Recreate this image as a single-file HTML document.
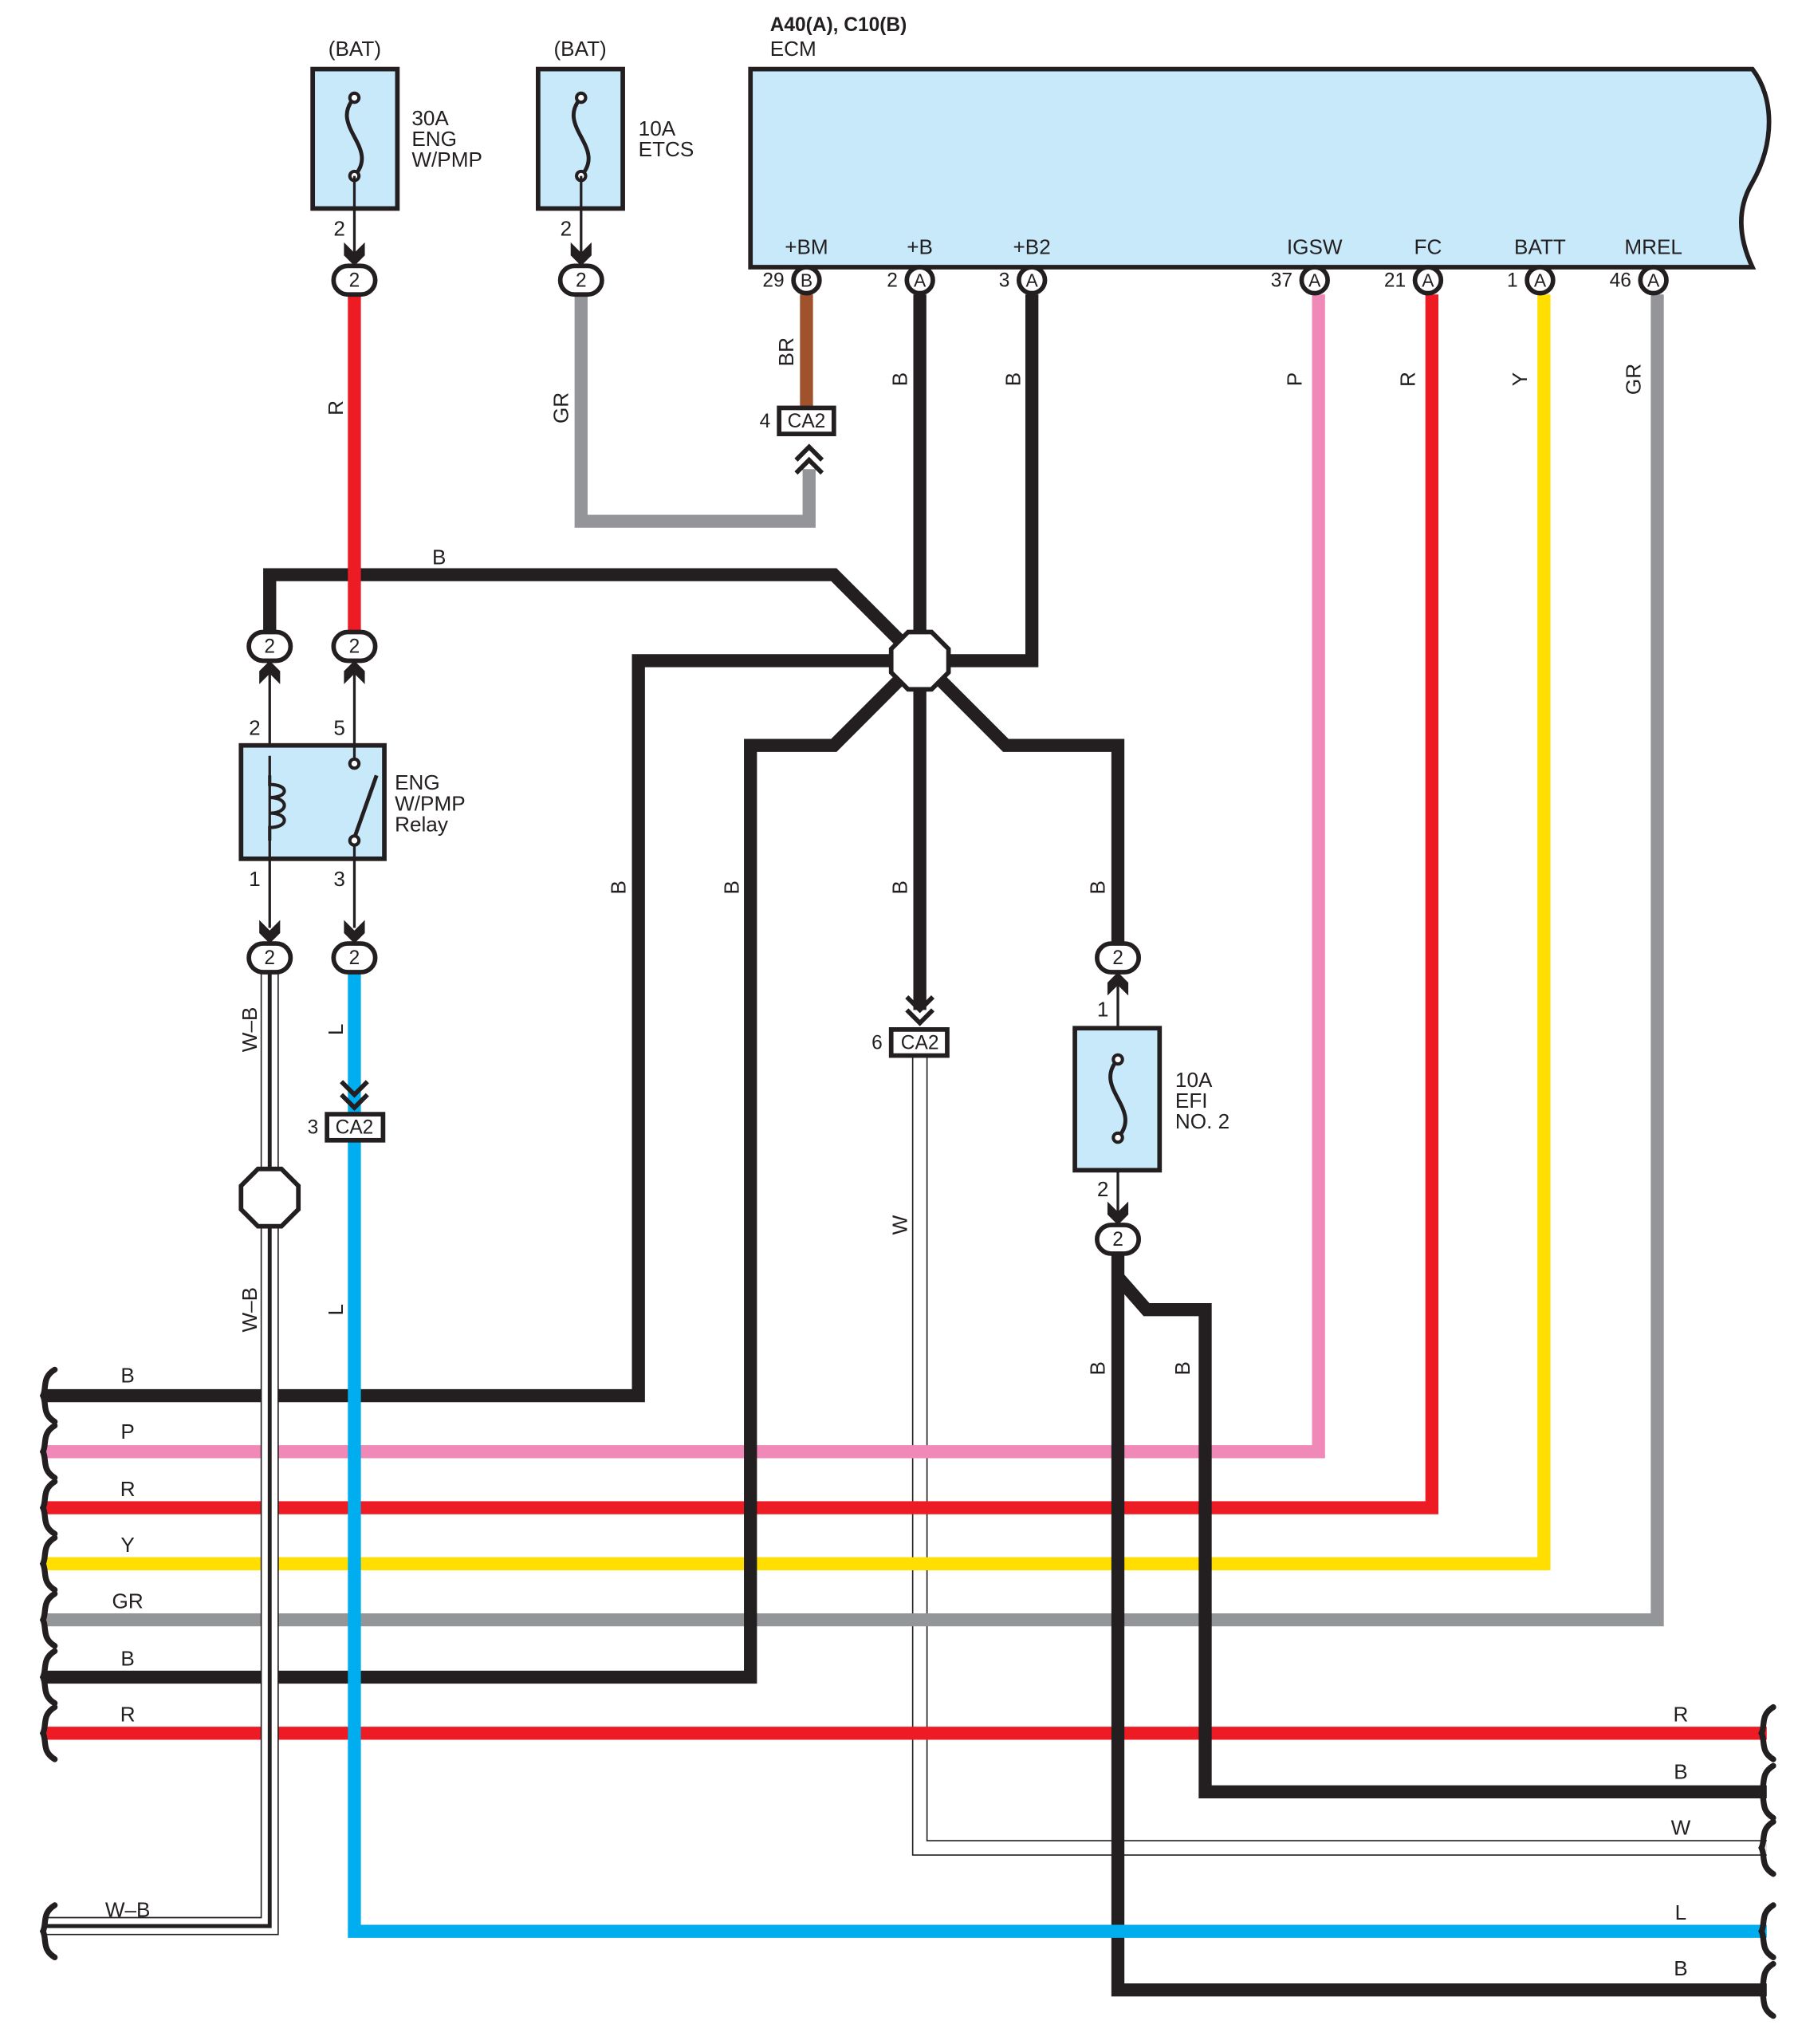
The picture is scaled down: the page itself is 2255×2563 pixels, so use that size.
<!DOCTYPE html>
<html><head><meta charset="utf-8"><style>
html,body{margin:0;padding:0;background:#fff}
svg{display:block}
text{font-family:"Liberation Sans",sans-serif;fill:#231f20}
</style></head><body>
<svg width="2255" height="2563" viewBox="0 0 1380 1568.5" preserveAspectRatio="none" xmlns="http://www.w3.org/2000/svg">
<defs>
<path id="brace" d="M6,-20 C-4,-14 0,-6 -3,0 C0,6 -4,14 6,20" fill="none" stroke="#231f20" stroke-width="4.5" stroke-linecap="round"/>
<g id="arrD"><path d="M-8,-16 L0,-8 L8,-16 L8,-6 L0,2 L-8,-6 Z" fill="#231f20"/></g>
<g id="arrU"><path d="M-8,16 L0,8 L8,16 L8,6 L0,-2 L-8,6 Z" fill="#231f20"/></g>
<g id="dchevU"><polyline points="-10,8 0,-2 10,8" fill="none" stroke="#231f20" stroke-width="3.5"/><polyline points="-10,18 0,8 10,18" fill="none" stroke="#231f20" stroke-width="3.5"/></g>
<g id="dchevD"><polyline points="-10,-8 0,2 10,-8" fill="none" stroke="#231f20" stroke-width="3.5"/><polyline points="-10,-18 0,-8 10,-18" fill="none" stroke="#231f20" stroke-width="3.5"/></g>
<g id="fuse"><path d="M0,-30 C-20,-8 20,8 0,30" fill="none" stroke="#231f20" stroke-width="3"/><circle cx="0" cy="-30" r="3.5" fill="#fff" stroke="#231f20" stroke-width="2.5"/><circle cx="0" cy="30" r="3.5" fill="#fff" stroke="#231f20" stroke-width="2.5"/></g>
</defs>

<path d="M576,53 H1345 C1362,75 1362,110 1345,140 C1330,165 1338,190 1345,205 H576 Z" fill="#c8e9fa" stroke="#231f20" stroke-width="3.5"/>
<text x="591" y="24" font-size="15" font-weight="bold">A40(A), C10(B)</text>
<text x="591" y="43" font-size="16">ECM</text>
<g font-size="16" text-anchor="middle">
<text x="619" y="195">+BM</text><text x="706" y="195">+B</text><text x="792" y="195">+B2</text>
<text x="1009" y="195">IGSW</text><text x="1096" y="195">FC</text><text x="1182" y="195">BATT</text><text x="1269" y="195">MREL</text>
</g>

<rect x="240" y="53" width="65" height="107" fill="#c8e9fa" stroke="#231f20" stroke-width="3.5"/>
<use href="#fuse" x="272" y="105"/>
<rect x="413" y="53" width="65" height="107" fill="#c8e9fa" stroke="#231f20" stroke-width="3.5"/>
<use href="#fuse" x="446" y="105"/>
<g font-size="16">
<text x="252" y="43">(BAT)</text><text x="425" y="43">(BAT)</text>
<text x="316" y="96">30A</text><text x="316" y="112">ENG</text><text x="316" y="128">W/PMP</text>
<text x="490" y="104">10A</text><text x="490" y="120">ETCS</text>
<text x="256" y="181">2</text><text x="430" y="181">2</text>
</g>
<line x1="272" y1="135" x2="272" y2="200" stroke="#231f20" stroke-width="2"/>
<line x1="446" y1="135" x2="446" y2="200" stroke="#231f20" stroke-width="2"/>
<use href="#arrD" x="272" y="202"/><use href="#arrD" x="446" y="202"/>

<path d="M706,811 V1418 H1356" fill="none" stroke="#231f20" stroke-width="12"/>
<path d="M706,811 V1418 H1356" fill="none" stroke="#fff" stroke-width="10"/>

<g fill="none" stroke-width="10" stroke-linejoin="miter">
<path d="M35,1114 H1012 V226" stroke="#f088b8"/>
<path d="M35,1157 H1099 V226" stroke="#ed1c24"/>
<path d="M35,1200 H1185 V226" stroke="#ffde00"/>
<path d="M35,1243 H1272 V226" stroke="#939598"/>
<path d="M35,1330 H1356" stroke="#ed1c24"/>
<path d="M35,1071 H490 V507 H700" stroke="#231f20"/>
<path d="M35,1287 H576 V572 H640 L700,512" stroke="#231f20"/>
<path d="M207,485 V441 H640 L706,507" stroke="#231f20"/>
<path d="M792,226 V507 H706" stroke="#231f20"/>
<path d="M706,226 V775" stroke="#231f20"/>
<path d="M712,512 L772,572 H858 V724" stroke="#231f20"/>
<path d="M858,962 V1527 H1356" stroke="#231f20"/>
<path d="M858,980 L880,1005 H925 V1375 H1356" stroke="#231f20"/>
<path d="M272,226 V485" stroke="#ed1c24"/>
<path d="M446,226 V400 H621 V360" stroke="#939598"/>
<path d="M619,226 V313" stroke="#a0522d"/>
<path d="M272,746 V1482 H1356" stroke="#00aeef"/>
</g>

<g fill="none">
<path d="M207,746 V1478 H35" stroke="#231f20" stroke-width="14"/>
<path d="M207,746 V1478 H35" stroke="#fff" stroke-width="12"/>
<path d="M207,746 V1478 H35" stroke="#231f20" stroke-width="3"/>
</g>
<polygon points="198,897 216,897 229,910 229,928 216,941 198,941 185,928 185,910" fill="#fff" stroke="#231f20" stroke-width="3.5"/>

<polygon points="697,485 715,485 728,498 728,516 715,529 697,529 684,516 684,498" fill="#fff" stroke="#231f20" stroke-width="3.5"/>

<g font-size="14" text-anchor="middle">
<g fill="#fff" stroke="#231f20" stroke-width="3.5">
<circle cx="619" cy="215" r="10"/><circle cx="706" cy="215" r="10"/><circle cx="792" cy="215" r="10"/>
<circle cx="1009" cy="215" r="10"/><circle cx="1096" cy="215" r="10"/><circle cx="1182" cy="215" r="10"/><circle cx="1269" cy="215" r="10"/>
</g>
<text x="619" y="220">B</text><text x="706" y="220">A</text><text x="792" y="220">A</text>
<text x="1009" y="220">A</text><text x="1096" y="220">A</text><text x="1182" y="220">A</text><text x="1269" y="220">A</text>
</g>
<g font-size="15" text-anchor="end">
<text x="602" y="220">29</text><text x="689" y="220">2</text><text x="775" y="220">3</text>
<text x="992" y="220">37</text><text x="1079" y="220">21</text><text x="1165" y="220">1</text><text x="1252" y="220">46</text>
</g>

<g fill="#fff" stroke="#231f20" stroke-width="3.5">
<rect x="256" y="204" width="32" height="22" rx="11"/>
<rect x="430" y="204" width="32" height="22" rx="11"/>
<rect x="191" y="485" width="32" height="22" rx="11"/>
<rect x="256" y="485" width="32" height="22" rx="11"/>
<rect x="191" y="724" width="32" height="22" rx="11"/>
<rect x="256" y="724" width="32" height="22" rx="11"/>
<rect x="842" y="724" width="32" height="22" rx="11"/>
<rect x="842" y="940" width="32" height="22" rx="11"/>
</g>
<g font-size="15" text-anchor="middle">
<text x="272" y="220">2</text><text x="446" y="220">2</text>
<text x="207" y="501">2</text><text x="272" y="501">2</text>
<text x="207" y="740">2</text><text x="272" y="740">2</text>
<text x="858" y="740">2</text><text x="858" y="956">2</text>
</g>

<line x1="207" y1="510" x2="207" y2="712" stroke="#231f20" stroke-width="2"/>
<line x1="272" y1="510" x2="272" y2="712" stroke="#231f20" stroke-width="2"/>
<rect x="185" y="572" width="110" height="87" fill="#c8e9fa" stroke="#231f20" stroke-width="3.5"/>
<path d="M207,595 V602 C222,602 222,612 207,612 C222,612 222,624 207,624 C222,624 222,635 207,635 V645" fill="none" stroke="#231f20" stroke-width="2.5"/>
<line x1="207" y1="580" x2="207" y2="659" stroke="#231f20" stroke-width="2"/>
<line x1="272" y1="572" x2="272" y2="586" stroke="#231f20" stroke-width="2"/>
<line x1="272" y1="659" x2="272" y2="645" stroke="#231f20" stroke-width="2"/>
<line x1="272" y1="643" x2="289" y2="595" stroke="#231f20" stroke-width="3"/>
<circle cx="272" cy="586" r="3.5" fill="#fff" stroke="#231f20" stroke-width="2.5"/>
<circle cx="272" cy="645" r="3.5" fill="#fff" stroke="#231f20" stroke-width="2.5"/>
<use href="#arrU" x="207" y="509"/><use href="#arrU" x="272" y="509"/>
<use href="#arrD" x="207" y="722"/><use href="#arrD" x="272" y="722"/>
<g font-size="16">
<text x="191" y="564">2</text><text x="256" y="564">5</text><text x="191" y="680">1</text><text x="256" y="680">3</text>
<text x="303" y="606">ENG</text><text x="303" y="622">W/PMP</text><text x="303" y="638">Relay</text>
</g>

<use href="#dchevU" x="621" y="345"/>
<use href="#dchevD" x="272" y="848"/>
<use href="#dchevD" x="706" y="783"/>
<g fill="#fff" stroke="#231f20" stroke-width="3.5">
<rect x="598" y="313" width="42" height="20"/>
<rect x="251" y="855" width="43" height="20"/>
<rect x="684" y="790" width="43" height="20"/>
</g>
<g font-size="15">
<text x="619" y="328" text-anchor="middle">CA2</text><text x="583" y="328">4</text>
<text x="272" y="870" text-anchor="middle">CA2</text><text x="236" y="870">3</text>
<text x="706" y="805" text-anchor="middle">CA2</text><text x="669" y="805">6</text>
</g>

<line x1="858" y1="750" x2="858" y2="938" stroke="#231f20" stroke-width="2"/>
<rect x="825" y="789" width="65" height="109" fill="#c8e9fa" stroke="#231f20" stroke-width="3.5"/>
<use href="#fuse" x="858" y="843"/>
<use href="#arrU" x="858" y="748"/><use href="#arrD" x="858" y="938"/>
<g font-size="16">
<text x="842" y="780">1</text><text x="842" y="918">2</text>
<text x="902" y="834">10A</text><text x="902" y="850">EFI</text><text x="902" y="866">NO. 2</text>
</g>

<g>
<use href="#brace" x="36" y="1071"/><use href="#brace" x="36" y="1114"/><use href="#brace" x="36" y="1157"/>
<use href="#brace" x="36" y="1200"/><use href="#brace" x="36" y="1243"/><use href="#brace" x="36" y="1287"/>
<use href="#brace" x="36" y="1330"/><use href="#brace" x="36" y="1482"/>
<use href="#brace" x="1355" y="1330"/><use href="#brace" x="1355" y="1375"/><use href="#brace" x="1355" y="1418"/>
<use href="#brace" x="1355" y="1482"/><use href="#brace" x="1355" y="1527"/>
</g>

<g font-size="16" text-anchor="middle">
<text x="98" y="1061">B</text><text x="98" y="1104">P</text><text x="98" y="1148">R</text><text x="98" y="1191">Y</text>
<text x="98" y="1234">GR</text><text x="98" y="1278">B</text><text x="98" y="1321">R</text><text x="98" y="1471">W–B</text>
<text x="337" y="433">B</text>
<text x="1290" y="1321">R</text><text x="1290" y="1365">B</text><text x="1290" y="1408">W</text><text x="1290" y="1473">L</text><text x="1290" y="1516">B</text>
</g>
<g font-size="16" text-anchor="middle">
<text transform="translate(263,313) rotate(-90)">R</text>
<text transform="translate(436,313) rotate(-90)">GR</text>
<text transform="translate(609,270) rotate(-90)">BR</text>
<text transform="translate(696,291) rotate(-90)">B</text>
<text transform="translate(783,291) rotate(-90)">B</text>
<text transform="translate(999,291) rotate(-90)">P</text>
<text transform="translate(1086,291) rotate(-90)">R</text>
<text transform="translate(1172,291) rotate(-90)">Y</text>
<text transform="translate(1259,291) rotate(-90)">GR</text>
<text transform="translate(480,681) rotate(-90)">B</text>
<text transform="translate(567,681) rotate(-90)">B</text>
<text transform="translate(696,681) rotate(-90)">B</text>
<text transform="translate(848,681) rotate(-90)">B</text>
<text transform="translate(197,790) rotate(-90)">W–B</text>
<text transform="translate(263,790) rotate(-90)">L</text>
<text transform="translate(696,940) rotate(-90)">W</text>
<text transform="translate(197,1005) rotate(-90)">W–B</text>
<text transform="translate(263,1005) rotate(-90)">L</text>
<text transform="translate(848,1050) rotate(-90)">B</text>
<text transform="translate(913,1050) rotate(-90)">B</text>
</g>
</svg>
</body></html>
